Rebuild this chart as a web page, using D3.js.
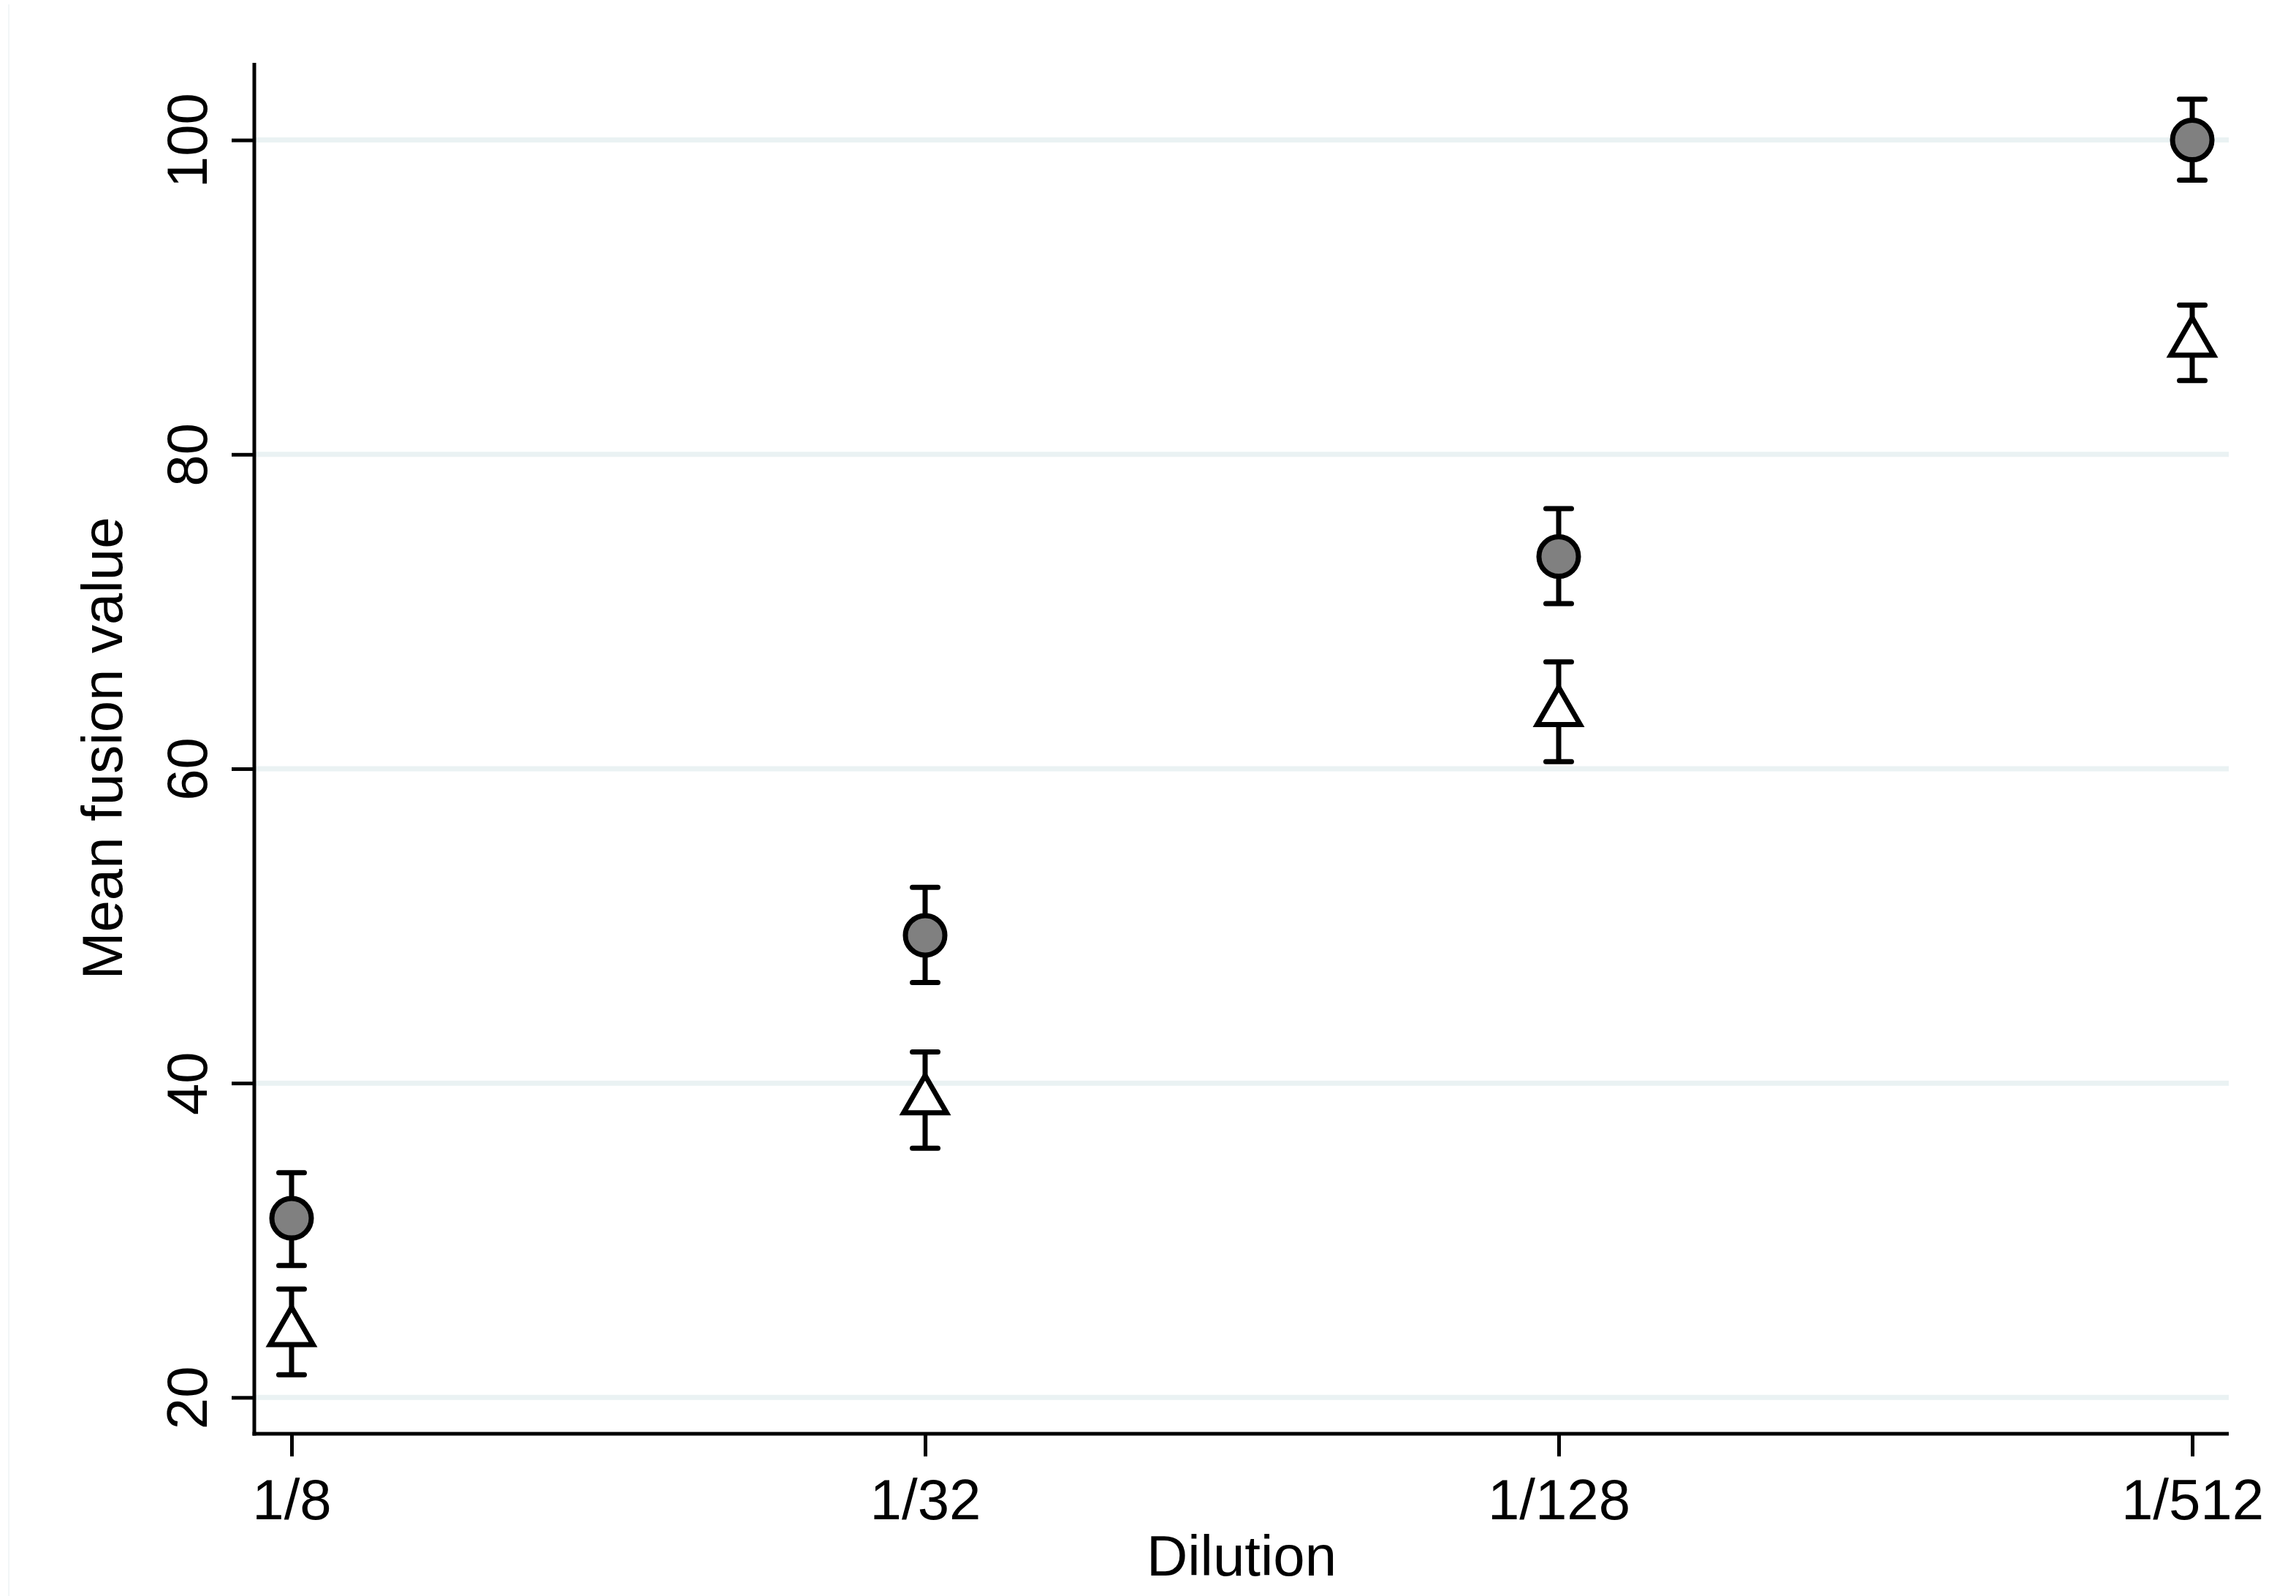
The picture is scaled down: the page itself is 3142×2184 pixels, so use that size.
<!DOCTYPE html>
<html>
<head>
<meta charset="utf-8">
<script src="https://cdn.jsdelivr.net/npm/d3@7"></script>
<style>
  html, body { margin: 0; padding: 0; background: #ffffff; }
  svg { display: block; }
  text { font-family: "Liberation Sans", Arial, Helvetica, sans-serif; fill: #000; }
</style>
</head>
<body>
<svg id="chart" width="3142" height="2184"></svg>
<script>
// ---------- data ----------
const categories = ["1/8", "1/32", "1/128", "1/512"];
const yTicks = [20, 40, 60, 80, 100];

// Series 1: filled grey circles
const circleMean = [31.4, 49.4, 73.5, 100.0];
const circleLow  = [28.4, 46.4, 70.5, 97.45];
const circleHigh = [34.3, 52.45, 76.55, 102.6];

// Series 2: hollow triangles
const triMean = [24.15, 38.9, 63.6, 87.1];
const triLow  = [21.45, 35.86, 60.45, 84.7];
const triHigh = [26.9, 41.98, 66.8, 89.5];

const xTitle = "Dilution";
const yTitle = "Mean fusion value";

// ---------- layout ----------
const W = 3142, H = 2184;
const plot = { left: 348, right: 3050, top: 86, bottom: 1962 };
const FONT = 78;

const svg = d3.select("#chart");
svg.append("rect").attr("width", W).attr("height", H).attr("fill", "#fff");

// faint outer frame line at the left edge
svg.append("line").attr("x1", 12).attr("x2", 12).attr("y1", 6).attr("y2", H)
  .attr("stroke", "#eef3f4").attr("stroke-width", 1.5);

const x = d3.scalePoint().domain(categories).range([399, 3000]);
const y = d3.scaleLinear().domain([17.69, 104.91]).range([plot.bottom, plot.top]);

// gridlines
svg.append("g").selectAll("line").data(yTicks).join("line")
  .attr("x1", plot.left + 2).attr("x2", plot.right)
  .attr("y1", d => y(d)).attr("y2", d => y(d))
  .attr("stroke", "#eaf2f3").attr("stroke-width", 7);

// y axis
const gy = svg.append("g").attr("transform", `translate(${plot.left},0)`)
  .call(d3.axisLeft(y).tickValues(yTicks).tickSize(31).tickFormat(d3.format("d")));
gy.select(".domain").remove();
gy.selectAll(".tick line").attr("stroke", "#000").attr("stroke-width", 5);
gy.selectAll(".tick text")
  .attr("x", null).attr("dy", null)
  .attr("transform", "translate(-65,0) rotate(-90)")
  .attr("text-anchor", "middle")
  .style("font-size", FONT + "px")
  .style("font-family", '"Liberation Sans", Arial, sans-serif')
  .attr("fill", "#000");

// x axis
const gx = svg.append("g").attr("transform", `translate(0,${plot.bottom})`)
  .call(d3.axisBottom(x).tickSize(31));
gx.select(".domain").remove();
gx.selectAll(".tick line").attr("stroke", "#000").attr("stroke-width", 5);
gx.selectAll(".tick text")
  .attr("y", 117).attr("dy", null)
  .attr("text-anchor", "middle")
  .style("font-size", FONT + "px")
  .style("font-family", '"Liberation Sans", Arial, sans-serif')
  .attr("fill", "#000");

// axis lines
svg.append("line").attr("x1", plot.left).attr("x2", plot.left)
  .attr("y1", plot.top).attr("y2", plot.bottom + 2.5)
  .attr("stroke", "#000").attr("stroke-width", 5);
svg.append("line").attr("x1", plot.left - 2.5).attr("x2", plot.right)
  .attr("y1", plot.bottom).attr("y2", plot.bottom)
  .attr("stroke", "#000").attr("stroke-width", 5);

// titles
svg.append("text")
  .attr("transform", `translate(167,${(plot.top + plot.bottom) / 2}) rotate(-90)`)
  .attr("text-anchor", "middle").style("font-size", FONT + "px").text(yTitle);
svg.append("text")
  .attr("x", (plot.left + plot.right) / 2).attr("y", 2156)
  .attr("text-anchor", "middle").style("font-size", FONT + "px").text(xTitle);

// error bars
function errorBars(means, lows, highs) {
  const g = svg.append("g");
  const rows = categories.map((c, i) => ({ c, m: means[i], lo: lows[i], hi: highs[i] }));
  g.selectAll("line.v").data(rows).join("line").attr("class", "v")
    .attr("x1", d => x(d.c)).attr("x2", d => x(d.c))
    .attr("y1", d => y(d.lo)).attr("y2", d => y(d.hi))
    .attr("stroke", "#000").attr("stroke-width", 7);
  const caps = rows.flatMap(d => [{ c: d.c, v: d.lo }, { c: d.c, v: d.hi }]);
  g.selectAll("line.cap").data(caps).join("line").attr("class", "cap")
    .attr("x1", d => x(d.c) - 17.5).attr("x2", d => x(d.c) + 17.5)
    .attr("y1", d => y(d.v)).attr("y2", d => y(d.v))
    .attr("stroke", "#000").attr("stroke-width", 7).attr("stroke-linecap", "round");
  return rows;
}

const triRows = errorBars(triMean, triLow, triHigh);
const circRows = errorBars(circleMean, circleLow, circleHigh);

// triangle markers
svg.append("g").selectAll("path").data(triRows).join("path")
  .attr("d", d3.symbol(d3.symbolTriangle, 1500))
  .attr("transform", d => `translate(${x(d.c)},${y(d.m)})`)
  .attr("fill", "#fff").attr("stroke", "#000").attr("stroke-width", 7)
  .attr("stroke-linejoin", "miter").attr("stroke-miterlimit", 10);

// circle markers
svg.append("g").selectAll("circle").data(circRows).join("circle")
  .attr("cx", d => x(d.c)).attr("cy", d => y(d.m)).attr("r", 27)
  .attr("fill", "#808080").attr("stroke", "#000").attr("stroke-width", 7);
</script>
</body>
</html>
